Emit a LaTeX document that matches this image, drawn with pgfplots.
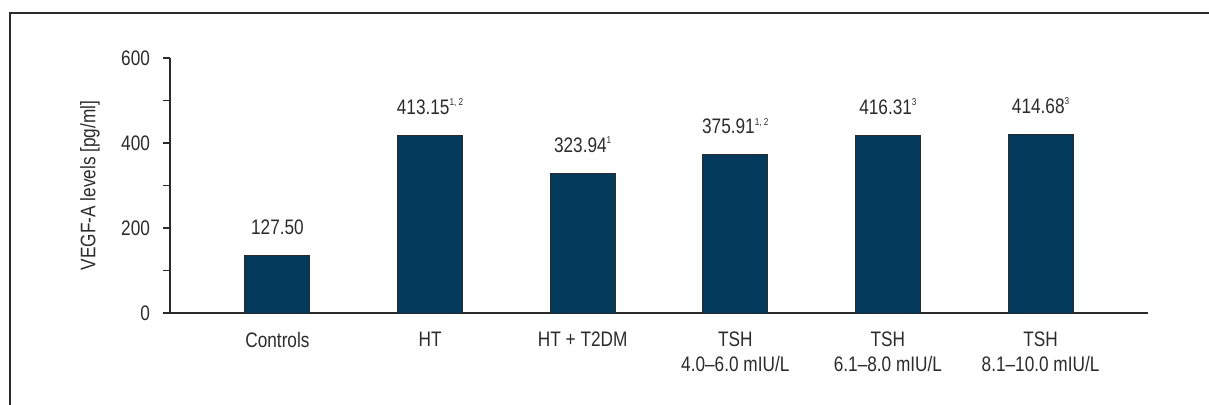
\documentclass[border=0pt]{standalone}
\usepackage{pgfplots}
\pgfplotsset{compat=1.18}
\usepackage{fontspec}
\setmainfont{Liberation Sans}[FakeStretch=0.82]
\definecolor{barblue}{HTML}{033A5C}
\definecolor{txt}{HTML}{2B2B2B}
\newcommand{\supnote}[1]{\raisebox{4.4pt}{\fontsize{5}{5}\selectfont #1}}
\begin{document}
\begin{tikzpicture}
\useasboundingbox (-85pt,-45.5pt) rectangle (519.5pt,156.5pt);
\draw[line width=0.7pt, color=txt] (-80pt,-46pt) -- (-80pt,150pt) -- (520pt,150pt);
\begin{axis}[
  at={(0pt,0pt)}, anchor=south west,
  scale only axis, width=489pt, height=127.5pt,
  xmin=-0.704, xmax=5.704, ymin=0, ymax=600,
  axis lines*=left,
  axis line style={color=txt, line width=0.6pt},
  ytick={0,200,400,600}, minor ytick={100,300,500},
  tick align=outside, major tick length=3.5pt, minor tick length=3.5pt,
  ytick style={color=txt, line width=0.6pt},
  minor tick style={color=txt, line width=0.6pt},
  xtick={0,1,2,3,4,5},
  xtick style={draw=none},
  xticklabels={Controls, HT, {HT + T2DM}, {TSH\\4.0--6.0 mIU/L}, {TSH\\6.1--8.0 mIU/L}, {TSH\\8.1--10.0 mIU/L}},
  xticklabel style={align=center, anchor=north, yshift=-2.5pt, font=\fontsize{10.5}{12.5}\selectfont, text=txt},
  yticklabel style={font=\fontsize{10.5}{12}\selectfont, text=txt, xshift=-3pt},
  /pgf/number format/assume math mode=true,
  ylabel={VEGF-A levels [pg/ml]},
  ylabel style={at={(axis description cs:-0.0818,0.5)}, anchor=center, font=\fontsize{10.5}{12}\selectfont, text=txt},
  nodes near coords,
  point meta=explicit symbolic,
  every node near coord/.append style={anchor=base, yshift=10.5pt, font=\fontsize{10.5}{12}\selectfont, text=txt},
]
\addplot[ybar, bar width=32.5pt, fill=barblue, draw=txt, line width=0.5pt] coordinates {
  (0,134.8) [{127.50}]
  (1,418.8) [{413.15\supnote{1, 2}}]
  (2,327.8) [{323.94\supnote{1}}]
  (3,371.8) [{375.91\supnote{1, 2}}]
  (4,418.8) [{416.31\supnote{3}}]
  (5,419.5) [{414.68\supnote{3}}]
};
\end{axis}
\end{tikzpicture}
\end{document}
